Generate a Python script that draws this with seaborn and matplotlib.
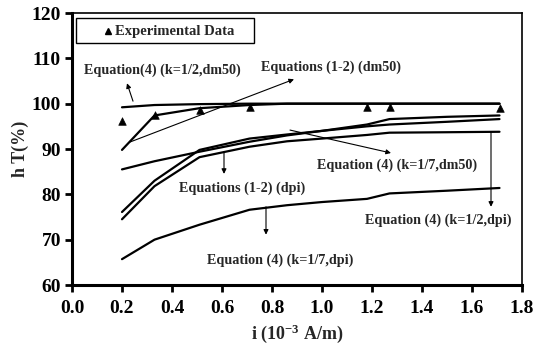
import numpy as np
import pandas as pd
import matplotlib
matplotlib.use("Agg")
import matplotlib.pyplot as plt
import seaborn as sns

# ---- data ----
exp_x = [0.20, 0.33, 0.51, 0.71, 1.18, 1.27, 1.71]
exp_y = [96.2, 97.5, 98.5, 99.3, 99.3, 99.3, 99.0]

curve_x = [0.20, 0.33, 0.51, 0.71, 0.86, 1.00, 1.18, 1.27, 1.50, 1.71]
eq4_half_dm50 = [99.2, 99.7, 99.9, 100.0, 100.0, 100.0, 100.0, 100.0, 100.0, 100.0]
eq12_dm50 = [89.8, 97.4, 99.0, 99.7, 100.0, 100.0, 100.0, 100.0, 100.0, 100.0]
eq4_sev_dm50 = [85.5, 87.3, 89.4, 91.6, 93.0, 94.0, 95.4, 96.6, 97.1, 97.4]
eq12_dpi = [76.1, 83.0, 89.8, 92.3, 93.2, 94.0, 95.0, 95.4, 96.0, 96.6]
eq4_half_dpi = [74.5, 81.8, 88.2, 90.5, 91.7, 92.3, 93.1, 93.6, 93.7, 93.8]
eq4_sev_dpi = [65.7, 70.0, 73.3, 76.6, 77.6, 78.3, 79.0, 80.2, 80.8, 81.4]

x_ticks = [0.0, 0.2, 0.4, 0.6, 0.8, 1.0, 1.2, 1.4, 1.6, 1.8]
y_ticks = [60, 70, 80, 90, 100, 110, 120]

sns.set_style("white")
plt.rcParams['font.family'] = ['Liberation Serif', 'DejaVu Serif']
plt.rcParams['font.weight'] = 'bold'
plt.rcParams['mathtext.fontset'] = 'custom'
plt.rcParams['mathtext.rm'] = 'Liberation Serif:bold'
plt.rcParams['mathtext.default'] = 'rm'

W, H = 537, 347
fig = plt.figure(figsize=(W / 100, H / 100), dpi=100)
ax = fig.add_axes([72 / W, 1 - 285 / H, (522 - 72) / W, (285 - 13) / H])

rows = []
for name, ys in [("a", eq4_half_dm50), ("b", eq12_dm50), ("c", eq4_sev_dm50),
                 ("d", eq12_dpi), ("e", eq4_half_dpi), ("f", eq4_sev_dpi)]:
    for xv, yv in zip(curve_x, ys):
        rows.append({"x": xv, "y": yv, "curve": name})
df = pd.DataFrame(rows)

sns.lineplot(data=df, x="x", y="y", units="curve", estimator=None, color="black",
             lw=1.6, ax=ax, sort=True, legend=False)
sns.scatterplot(x=exp_x, y=exp_y, marker="^", color="black", s=30, edgecolor="black",
                ax=ax, zorder=5, legend=False)

ax.set_xlim(0.0, 1.8)
ax.set_ylim(60, 120)
ax.set_xticks(x_ticks)
ax.set_xticklabels([f"{v:.1f}" for v in x_ticks])
ax.set_yticks(y_ticks)
ax.set_yticklabels([str(v) for v in y_ticks])
ax.tick_params(axis="both", direction="out", length=5, width=2, labelsize=14,
               colors="black", bottom=True, left=True)
ax.tick_params(axis="x", pad=6)
ax.tick_params(axis="y", pad=3)
for lab in ax.get_xticklabels() + ax.get_yticklabels():
    lab.set_fontweight("bold")
for side in ["left", "bottom"]:
    ax.spines[side].set_linewidth(2.2)
    ax.spines[side].set_color("black")
for side in ["top", "right"]:
    ax.spines[side].set_linewidth(1.2)
    ax.spines[side].set_color("black")

ax.set_xlabel("i (10$^{-3}$ A/m)", fontsize=13, fontweight="bold", labelpad=4)
ax.set_ylabel("h T(%)", fontsize=13, fontweight="bold", labelpad=2)

# helper: pixel -> data
def px2d(px, py):
    return ((px - 72) / 250.0, 100 - (py - 103.5) / 4.55)

# legend box
from matplotlib.patches import Rectangle
x0, y0 = px2d(76, 43)
x1, y1 = px2d(254, 18)
ax.add_patch(Rectangle((x0, y0), x1 - x0, y1 - y0, fill=False, edgecolor="black", lw=1.0, zorder=6))
mx, my = px2d(108, 31)
ax.plot([mx], [my], marker="^", color="black", ms=5, zorder=7)
tx, ty = px2d(115, 31)
ax.text(tx, ty, "Experimental Data", fontsize=10.5, fontweight="bold", ha="left", va="center")

fs = 10.2
def label(text, cx, cy):
    x, y = px2d(cx, cy)
    ax.text(x, y, text, fontsize=fs, fontweight="bold", ha="center", va="center")

def arrow(p0, p1, lw=0.8):
    ax.annotate("", xy=px2d(*p1), xytext=px2d(*p0),
                arrowprops=dict(arrowstyle="-|>", color="black", lw=lw,
                                mutation_scale=7, shrinkA=0, shrinkB=0))

label("Equation(4) (k=1/2,dm50)", 162, 70)
arrow((133, 101), (127, 83))
label("Equations (1-2) (dm50)", 331, 67)
arrow((130, 142), (294, 79))
label("Equation (4) (k=1/7,dm50)", 397, 165)
arrow((290, 130), (391, 153))
label("Equations (1-2) (dpi)", 242, 188)
arrow((224, 152), (224, 174))
label("Equation (4) (k=1/2,dpi)", 438, 221)
arrow((491, 132), (491, 207))
label("Equation (4) (k=1/7,dpi)", 280, 261)
arrow((266, 207), (266, 235))

fig.savefig("out.png", dpi=100)
